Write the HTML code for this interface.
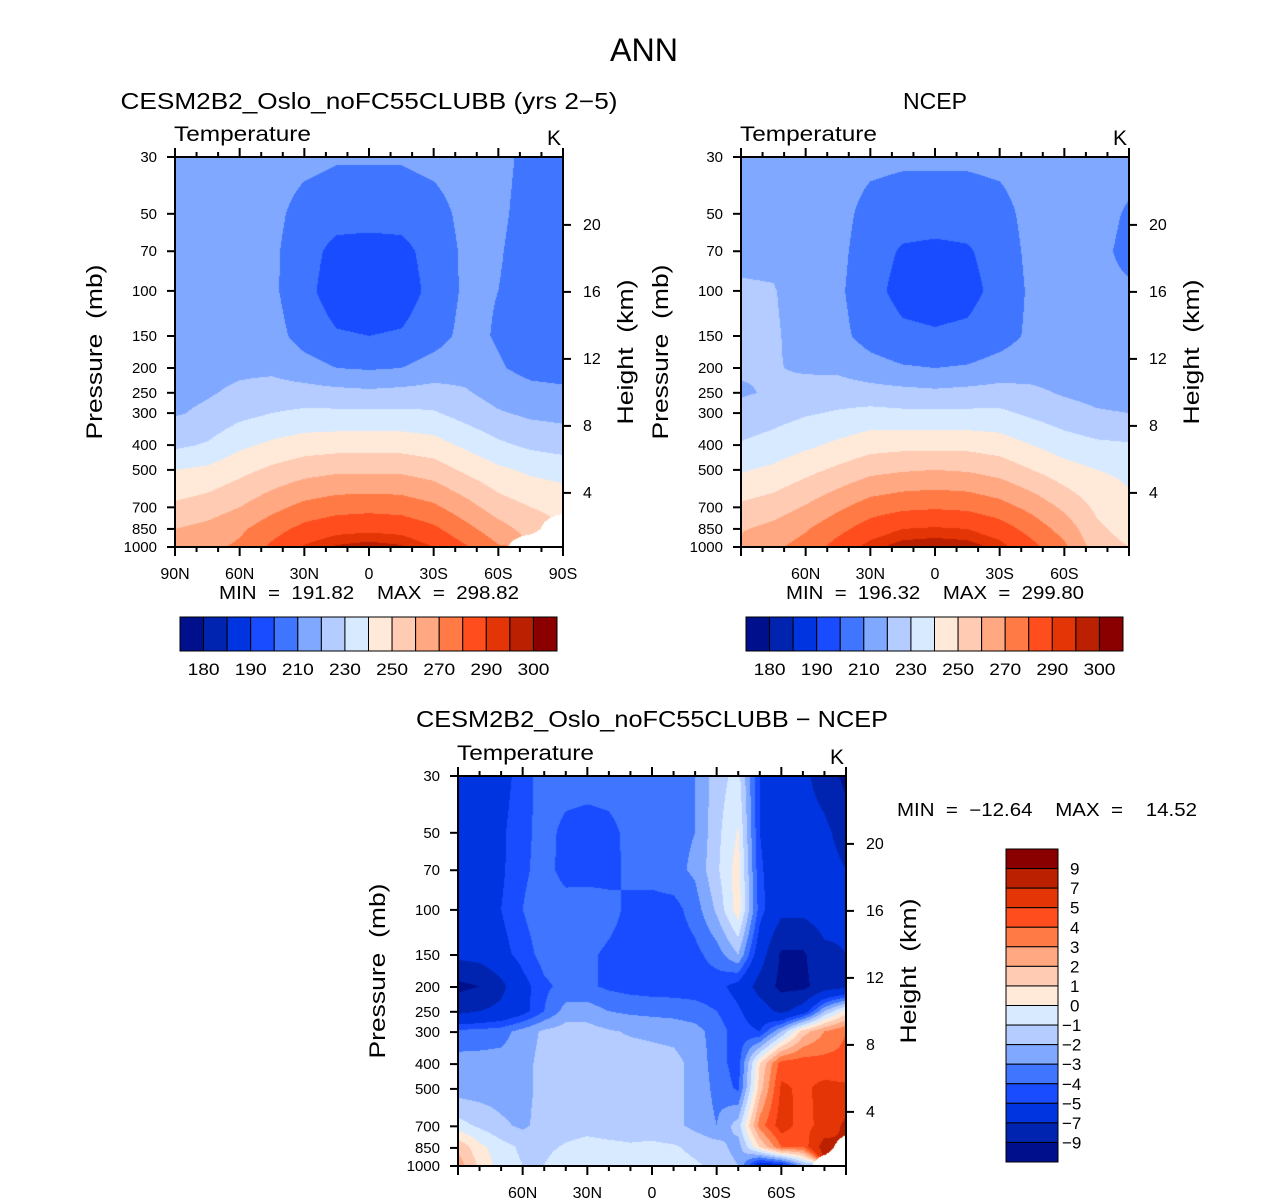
<!DOCTYPE html>
<html><head><meta charset="utf-8">
<style>
html,body{margin:0;padding:0;background:#fff;}
#root{position:relative;width:1285px;height:1203px;overflow:hidden;font-family:"Liberation Sans",sans-serif;}
canvas{position:absolute;}
svg{position:absolute;left:0;top:0;}
text{font-family:"Liberation Sans",sans-serif;fill:#000;white-space:pre;}
</style></head>
<body>
<div id="root">
<canvas id="c1" width="388" height="390" style="left:175px;top:157px"></canvas>
<canvas id="c2" width="388" height="390" style="left:741px;top:157px"></canvas>
<canvas id="c3" width="388" height="389" style="left:458px;top:776px"></canvas>
<svg id="s" width="1285" height="1203"></svg>
</div>
<script>
// ---- data ----
const pressureLevels = [30,50,70,100,150,200,250,300,400,500,700,850,1000];
const latsCoarse = [90,75,60,45,30,15,0,-15,-30,-45,-60,-75,-90];
const latsFine = [90,80,70,60,50,40,30,20,10,0,-10,-20,-30,-40,-50,-60,-70,-80,-90];
const modelTemp = [
 [216,216,216,215,213,211,211,211,213,215,213,207,205],
 [216,216,215,213,206,204,204,204,206,213,212,206,204],
 [216,216,215,212,204,197,196,197,204,212,211,205,203],
 [216,216,215,212,203,195,194,195,203,212,210,205,203],
 [217,217,216,214,206,201,200,201,206,213,209,205,204],
 [216,217,218,218,214,210,209,210,214,216,211,207,206],
 [217,219,222,224,224,223,222,223,224,221,216,213,212],
 [219,222,227,230,232,232,232,232,231,226,221,218,217],
 [228,231,238,242,245,246,246,246,244,238,232,228,226],
 [240,242,247,252,256,258,258,258,255,248,242,238,236],
 [252,255,260,267,273,276,277,276,272,264,255,250,247],
 [260,263,268,276,283,287,288,287,282,273,264,256,null],
 [264,267,272,282,291,296,298,296,290,281,271,null,null]];
const ncepTemp = [
 [217,217,216,215,213,212,212,212,213,215,216,215,213],
 [217,217,216,214,206,204,204,204,206,214,215,213,209],
 [218,218,216,213,204,199,198,199,204,213,214,212,208],
 [221,220.5,216,212,203,197,196,197,203,212,214,212,211],
 [223,221,217,213,206,202,201,202,206,212,214,213,212],
 [221,220.5,219,218,214,211,210,211,214,216,215,214,213],
 [219,221,223,225,224,223,222,223,224,222,219,217,216],
 [223,226,229,231,233,232,232,232,232,228,224,221,220],
 [231,234,238,242,246,247,247,247,245,240,235,232,231],
 [239,242,247,252,257,259,260,259,256,250,244,240,238],
 [252,255,261,268,275,278,279,278,274,267,258,248,242],
 [259,263,269,277,285,290,291,290,285,276,266,252,246],
 [263,268,274,284,293,298,299,298,293,283,272,255,250]];
const diffTemp = [
 [-6,-6,-5.5,-4.5,-3.5,-3.5,-3.5,-3.5,-3.5,-3.5,-3.3,-3,-1.5,-0.6,-5,-6,-6.5,-8,-9.5],
 [-6,-5.8,-5.2,-4.3,-3.6,-4.3,-4.5,-4.3,-3.7,-3.5,-3.3,-3,-1.3,0.1,-5,-6,-6,-6.5,-8],
 [-6,-5.8,-5.2,-4.2,-3.6,-4.4,-4.6,-4.4,-3.7,-3.5,-3.3,-2.8,-1.2,0.5,-4.8,-6,-6,-6,-7],
 [-6,-5.8,-5,-4,-3.3,-3.5,-3.2,-3.6,-4.3,-4.5,-4.4,-3.5,-1.8,0.6,-4.5,-6.5,-6.5,-6,-6.5],
 [-6.5,-6.3,-5.5,-4.5,-3.6,-3.5,-3.8,-4.2,-4.5,-4.6,-4.6,-4.3,-3.5,-2,-6,-9.3,-9.3,-7.5,-7],
 [-9.5,-9,-7.5,-5.5,-4.2,-3.7,-3.8,-4.2,-4.4,-4.5,-4.5,-4.5,-4.6,-5.5,-7.8,-9.5,-9.5,-8,-7.5],
 [-7.5,-7,-6.5,-5.5,-4,-2.6,-2.5,-3,-3.2,-3.3,-3.4,-3.6,-4,-4.8,-6,-7.5,-6,-2,0.5],
 [-3.7,-3.6,-3.4,-2.6,-1.8,-1.5,-1.6,-1.9,-2.1,-2.2,-2.3,-2.6,-3.5,-4.5,-5,-2,1.5,3,4],
 [-2.6,-2.6,-2.6,-2.4,-1.6,-1.4,-1.4,-1.5,-1.5,-1.6,-1.7,-2.3,-3.5,-4.5,1,4.5,4.6,4.4,4.3],
 [-2.5,-2.5,-2.5,-2.3,-1.7,-1.5,-1.4,-1.5,-1.5,-1.6,-1.7,-2.3,-3.3,-4.2,1.5,5.2,4.8,5.3,5.2],
 [-0.6,-1.2,-1.8,-2.2,-1.6,-1.4,-1.3,-1.4,-1.4,-1.5,-1.7,-2.3,-3,-1.5,3.5,5.6,4.5,5.5,7.5],
 [1.8,0.3,-0.6,-1.2,-1.2,-0.9,-0.7,-0.8,-0.9,-0.8,-0.9,-1.2,-1.5,-2.5,1,4,4,8,null],
 [2.5,0.8,-0.5,-1,-1,-0.5,-0.5,-0.6,-0.4,-0.6,-0.7,-0.9,-1.2,-2,-6,-5.5,-2,null,null]];
const tempLevels = [180,185,190,200,210,220,230,240,250,260,270,280,290,295,300];
const tempLabels = ["180","190","210","230","250","270","290","300"];
const diffLevels = [-9,-7,-5,-4,-3,-2,-1,0,1,2,3,4,5,7,9];
const diffLabels = ["9","7","5","4","3","2","1","0","−1","−2","−3","−4","−5","−7","−9"];
const palette = ["#000f8c","#0024b0","#0034e0","#1a4cff","#3f75ff","#80a8ff","#b4ccff","#d8eaff",
 "#ffe9d9","#ffcbb3","#ffa882","#ff7a45","#ff4d1e","#e33506","#bb2000","#8a0000"];
const heightTicks = [4,8,12,16,20];

// ---- helpers ----
const LP0 = Math.log(30), LP1 = Math.log(1000);
function hexRGB(h){return [parseInt(h.substr(1,2),16),parseInt(h.substr(3,2),16),parseInt(h.substr(5,2),16)];}
const palRGB = palette.map(hexRGB);
function colorIdx(v, levels){let i=0; while(i<levels.length && v>=levels[i]) i++; return i;}
function drawField(id, lats, grid, levels, thr){
  const cv=document.getElementById(id), ctx=cv.getContext('2d');
  const W=cv.width,H=cv.height, img=ctx.createImageData(W,H);
  const lp=pressureLevels.map(Math.log);
  for(let y=0;y<H;y++){
    const L=LP0+(y+0.5)/H*(LP1-LP0);
    let j=0; while(j<lp.length-2 && L>lp[j+1]) j++;
    let ty=(L-lp[j])/(lp[j+1]-lp[j]); ty=Math.max(0,Math.min(1,ty));
    for(let x=0;x<W;x++){
      const lat=90-(x+0.5)/W*180;
      let i=0; while(i<lats.length-2 && lat<lats[i+1]) i++;
      let tx=(lats[i]-lat)/(lats[i]-lats[i+1]); tx=Math.max(0,Math.min(1,tx));
      const c=[[grid[j][i],(1-tx)*(1-ty)],[grid[j][i+1],tx*(1-ty)],[grid[j+1][i],(1-tx)*ty],[grid[j+1][i+1],tx*ty]];
      let s=0,w=0,nw=0;
      c.forEach(([v,wt])=>{if(v===null) nw+=wt; else {s+=v*wt; w+=wt;}});
      const k=(y*W+x)*4;
      if(nw>thr||w===0){img.data[k]=255;img.data[k+1]=255;img.data[k+2]=255;img.data[k+3]=255;continue;}
      const rgb=palRGB[colorIdx(s/w,levels)];
      img.data[k]=rgb[0];img.data[k+1]=rgb[1];img.data[k+2]=rgb[2];img.data[k+3]=255;
    }
  }
  ctx.putImageData(img,0,0);
}
const svg=document.getElementById('s');
const NS='http://www.w3.org/2000/svg';
function el(tag, attrs, parent){const e=document.createElementNS(NS,tag); for(const k in attrs) e.setAttribute(k,attrs[k]); (parent||svg).appendChild(e); return e;}
function txt(x,y,s,size,anchor,name,parent,len){const t=el('text',{x:x,y:y,'font-size':size,'text-anchor':anchor||'start'},parent); t.textContent=s;
 
 
 if(len){t.setAttribute('textLength',len); t.setAttribute('lengthAdjust','spacingAndGlyphs');}
 return t;}

function drawAxes(x0,y0,latLabels,title){
  const W=388,H=390;
  const g=el('g',{});
  
  
  const xs=lat=>x0+(90-lat)/180*W;
  const ys=p=>y0+(Math.log(p)-LP0)/(LP1-LP0)*H;
  el('rect',{x:x0,y:y0,width:W,height:H,fill:'none',stroke:'#000','stroke-width':2},g);
  for(let lat=90;lat>=-90;lat-=10){
    const major=lat%30===0, len=major?9:5, x=xs(lat);
    el('line',{x1:x,y1:y0+H,x2:x,y2:y0+H+len,stroke:'#000','stroke-width':2},g);
    el('line',{x1:x,y1:y0,x2:x,y2:y0-len,stroke:'#000','stroke-width':2},g);
  }
  latLabels.forEach(l=>{
    const lat = l==='0'?0:(parseInt(l)*(l.endsWith('S')?-1:1));
    txt(xs(lat),y0+H+32,l,16,'middle','x-tick-label',g);
  });
  pressureLevels.forEach(p=>{
    const y=ys(p);
    el('line',{x1:x0-8,y1:y,x2:x0,y2:y,stroke:'#000','stroke-width':2},g);
    txt(x0-18,y+5,String(p),15,'end','y-tick-label',g);
  });
  heightTicks.forEach(h=>{
    const p=1123*Math.exp(-h/6.64);
    const y=ys(p);
    el('line',{x1:x0+W,y1:y,x2:x0+W+8,y2:y,stroke:'#000','stroke-width':2},g);
    txt(x0+W+20,y+5,String(h),16,'start','height-tick-label',g);
  });
  txt(x0-1,y0-16,'Temperature',21,'start','variable-label',g,137);
  txt(x0+W-2,y0-12,'K',21,'end','units-label',g);
  const py=y0+H/2;
  const t1=txt(x0-73,py,'Pressure  (mb)',22,'middle','y-axis-title',g,175); t1.setAttribute('transform','rotate(-90 '+(x0-73)+' '+py+')');
  const t2=txt(x0+W+70,py,'Height  (km)',22,'middle','y2-axis-title',g,145); t2.setAttribute('transform','rotate(-90 '+(x0+W+70)+' '+py+')');
}
function hColorbar(x0,y0,w,h){
  const bw=w/palette.length;
  palette.forEach((c,i)=>{
    const r=el('rect',{x:x0+i*bw,y:y0,width:bw,height:h,fill:c,stroke:'#000','stroke-width':1});
    
    
  });
  tempLabels.forEach((l,k)=>{
    const lev=parseFloat(l), idx=tempLevels.indexOf(lev);
    txt(x0+(idx+1)*bw,y0+h+24,l,17,'middle','colorbar-label',null,32);
  });
}
function vColorbar(x0,y0,w,h){
  const bh=h/palette.length;
  palette.slice().reverse().forEach((c,i)=>{
    const r=el('rect',{x:x0,y:y0+i*bh,width:w,height:bh,fill:c,stroke:'#000','stroke-width':1});
    
    
  });
  diffLabels.forEach((l,i)=>{
    txt(x0+w+(l.length>1&&l[0]==='−'?4:12),y0+(i+1)*bh+6,l,17,'start','colorbar-label');
  });
}

drawField('c1',latsCoarse,modelTemp,tempLevels,0.3);
drawField('c2',latsCoarse,ncepTemp,tempLevels,0.45);
drawField('c3',latsFine,diffTemp,diffLevels,0.45);

txt(644,61,'ANN',32,'middle','figure-title',null,68);
txt(369,109,'CESM2B2_Oslo_noFC55CLUBB (yrs 2−5)',23,'middle','model-panel-title',null,497);
txt(935,109,'NCEP',23,'middle','ncep-panel-title',null,64);
txt(652,727,'CESM2B2_Oslo_noFC55CLUBB − NCEP',23,'middle','diff-panel-title',null,472);
drawAxes(175,157,['90N','60N','30N','0','30S','60S','90S'],'model');
drawAxes(741,157,['60N','30N','0','30S','60S'],'ncep');
drawAxes(458,776,['60N','30N','0','30S','60S'],'diff');
txt(369,599,'MIN  =  191.82    MAX  =  298.82',18,'middle','model-min-max',null,300);
txt(935,599,'MIN  =  196.32    MAX  =  299.80',18,'middle','ncep-min-max',null,298);
txt(1047,816,'MIN  =  −12.64    MAX  =    14.52',18,'middle','diff-min-max',null,300);
hColorbar(180,617,377,34);
hColorbar(746,617,377,34);
vColorbar(1006,849,52,313);
</script>
</body></html>
